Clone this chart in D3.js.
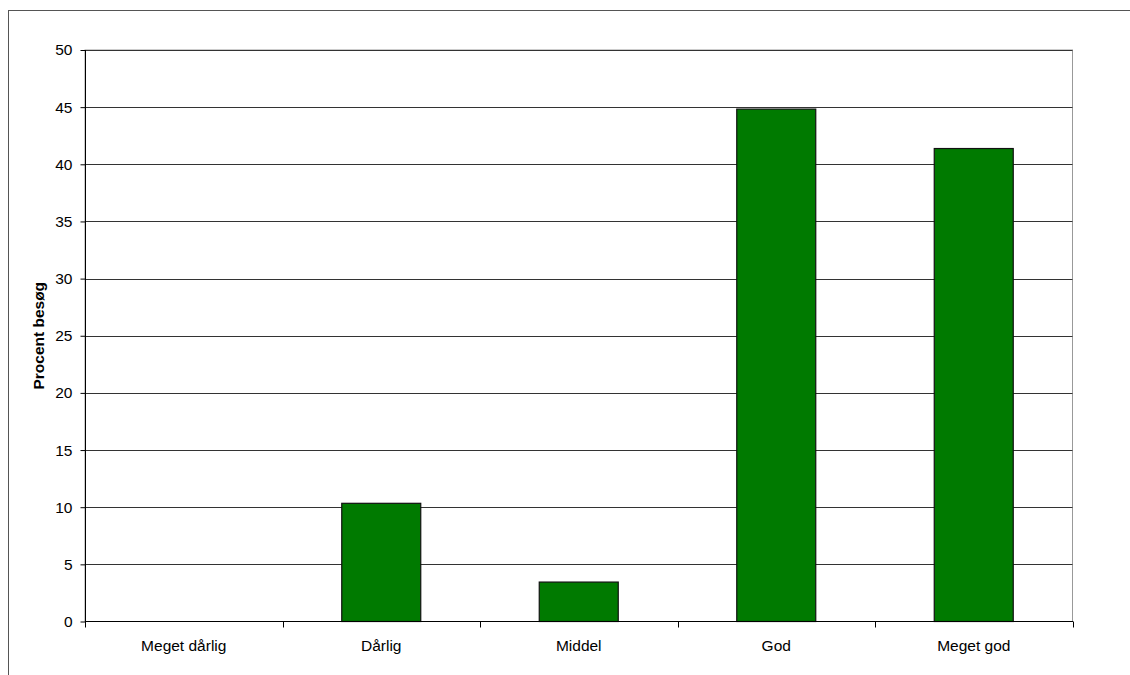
<!DOCTYPE html>
<html>
<head>
<meta charset="utf-8">
<script src="https://cdn.jsdelivr.net/npm/d3@7"></script>
<style>
  html, body { margin: 0; padding: 0; background: #fff; }
  svg { display: block; font-family: "Liberation Sans", Arial, sans-serif; }
</style>
</head>
<body>
<svg id="chart" width="1130" height="675"></svg>
<script>
// Visit ratings, percent of visits
const categories = ["Meget dårlig", "Dårlig", "Middel", "God", "Meget god"];
const values = [0, 10.34, 3.45, 44.83, 41.38];
const yTicks = [0, 5, 10, 15, 20, 25, 30, 35, 40, 45, 50];
const yTitle = "Procent besøg";

const fontSize = 15.5;
const svg = d3.select("#chart");
const plot = { left: 85, top: 50, right: 1072.5, bottom: 621.5 };

// outer chart frame (runs off the right and bottom edges)
svg.append("rect")
  .attr("x", 8.5).attr("y", 10.5)
  .attr("width", 1200).attr("height", 700)
  .attr("fill", "none").attr("stroke", "#555").attr("stroke-width", 1);

const x = d3.scaleBand().domain(categories)
  .range([plot.left, plot.right]).paddingInner(0).paddingOuter(0);
const y = d3.scaleLinear().domain([0, 50]).range([plot.bottom, plot.top]);

// plot area border
svg.append("rect")
  .attr("x", plot.left).attr("y", plot.top)
  .attr("width", plot.right - plot.left).attr("height", plot.bottom - plot.top)
  .attr("fill", "none").attr("stroke", "#999").attr("stroke-width", 1);

// horizontal gridlines
svg.append("g").selectAll("line")
  .data(yTicks.filter(t => t > 0))
  .join("line")
  .attr("x1", plot.left).attr("x2", plot.right)
  .attr("y1", d => Math.round(y(d)) + 0.5).attr("y2", d => Math.round(y(d)) + 0.5)
  .attr("stroke", "#333").attr("stroke-width", 1);

// bars
const barW = x.bandwidth() * 0.4;
svg.append("g").selectAll("rect")
  .data(values.map((v, i) => ({ c: categories[i], v })).filter(d => d.v > 0))
  .join("rect")
  .attr("x", d => x(d.c) + (x.bandwidth() - barW) / 2)
  .attr("y", d => y(d.v))
  .attr("width", barW)
  .attr("height", d => y(0) - y(d.v))
  .attr("fill", "#007a00")
  .attr("stroke", "#111").attr("stroke-width", 1.2);

// y axis
const yAxis = svg.append("g")
  .attr("transform", `translate(${plot.left + 0.5},0)`)
  .call(d3.axisLeft(y).tickValues(yTicks).tickSize(5).tickPadding(8).tickFormat(d3.format("d")));
yAxis.select(".domain").attr("stroke", "#000").attr("d", `M0,${plot.top}V${plot.bottom}`);
yAxis.selectAll(".tick line").attr("stroke", "#000");
yAxis.selectAll(".tick text").attr("font-size", fontSize).attr("fill", "#000")
  .attr("font-family", "Liberation Sans, Arial, sans-serif");

// x axis with ticks on category boundaries
const xAxis = svg.append("g")
  .attr("transform", `translate(0,${plot.bottom})`);
xAxis.append("line")
  .attr("x1", plot.left).attr("x2", plot.right + 0.5)
  .attr("y1", 0).attr("y2", 0)
  .attr("stroke", "#000").attr("stroke-width", 1.2);
const boundaries = categories.map(c => x(c)).concat([plot.right]);
xAxis.selectAll("line.tick")
  .data(boundaries)
  .join("line")
  .attr("class", "tick")
  .attr("x1", d => Math.round(d) + 0.5).attr("x2", d => Math.round(d) + 0.5)
  .attr("y1", 0).attr("y2", 6)
  .attr("stroke", "#000");
xAxis.selectAll("text")
  .data(categories)
  .join("text")
  .attr("x", d => x(d) + x.bandwidth() / 2)
  .attr("y", 29.5)
  .attr("text-anchor", "middle")
  .attr("font-size", fontSize)
  .attr("fill", "#000")
  .text(d => d);

// y axis title
svg.append("text")
  .attr("transform", `translate(44,${(plot.top + plot.bottom) / 2}) rotate(-90)`)
  .attr("text-anchor", "middle")
  .attr("font-size", fontSize)
  .attr("font-weight", "bold")
  .attr("fill", "#000")
  .text(yTitle);
</script>
</body>
</html>
